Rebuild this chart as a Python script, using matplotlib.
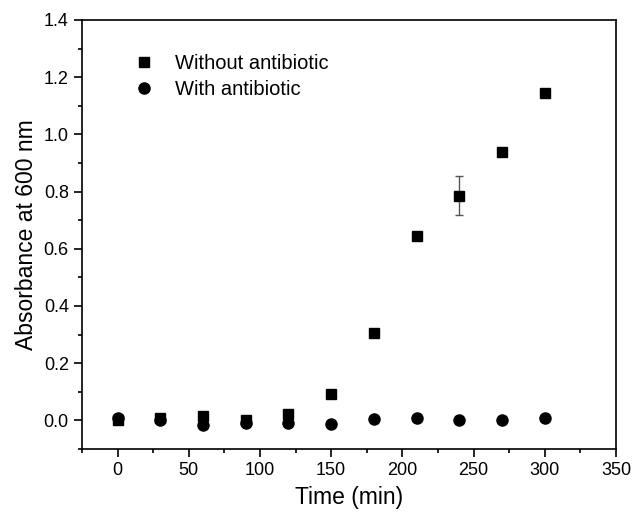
import matplotlib.pyplot as plt
from matplotlib.ticker import MultipleLocator

plt.rcParams['font.family'] = ['Liberation Sans', 'DejaVu Sans']

time_min = [0, 30, 60, 90, 120, 150, 180, 210, 240, 270, 300]
without_ab = [0.0, 0.009, 0.015, 0.003, 0.023, 0.093, 0.304, 0.646, 0.786, 0.939, 1.146]
without_err = [0, 0, 0, 0, 0, 0, 0, 0, 0.067, 0, 0]
with_ab = [0.007, 0.0, -0.015, -0.008, -0.009, -0.012, 0.006, 0.009, 0.001, 0.002, 0.007]

fig = plt.figure(figsize=(6.34, 5.15), dpi=100)
ax = fig.add_axes([0.1293, 0.1282, 0.8423, 0.833])

ax.errorbar(time_min, without_ab, yerr=without_err, fmt='none', ecolor='#555555',
            elinewidth=1, capsize=3, capthick=1, zorder=2)
ax.plot(time_min, without_ab, 's', color='black', markersize=7, label='Without antibiotic', zorder=3)
ax.plot(time_min, with_ab, 'o', color='black', markersize=8, label='With antibiotic', zorder=3)

ax.set_xlim(-25, 350)
ax.set_ylim(-0.1, 1.4)
ax.xaxis.set_major_locator(MultipleLocator(50))
ax.xaxis.set_minor_locator(MultipleLocator(25))
ax.yaxis.set_major_locator(MultipleLocator(0.2))
ax.yaxis.set_minor_locator(MultipleLocator(0.1))
ax.yaxis.set_major_formatter(plt.FormatStrFormatter('%.1f'))
ax.tick_params(which='both', direction='out', top=False, right=False, labelsize=13, width=1.2)
ax.tick_params(which='major', length=6)
ax.tick_params(which='minor', length=3)
for s in ax.spines.values():
    s.set_linewidth(1.2)

ax.set_xlabel('Time (min)', fontsize=16.5, labelpad=5)
ax.set_ylabel('Absorbance at 600 nm', fontsize=16.5)

ax.legend(loc='upper left', bbox_to_anchor=(0.083, 0.94), frameon=False, fontsize=14.5,
          handlelength=1.0, handletextpad=1.0, labelspacing=0.35, borderaxespad=0)

fig.savefig('out.png', dpi=100)
